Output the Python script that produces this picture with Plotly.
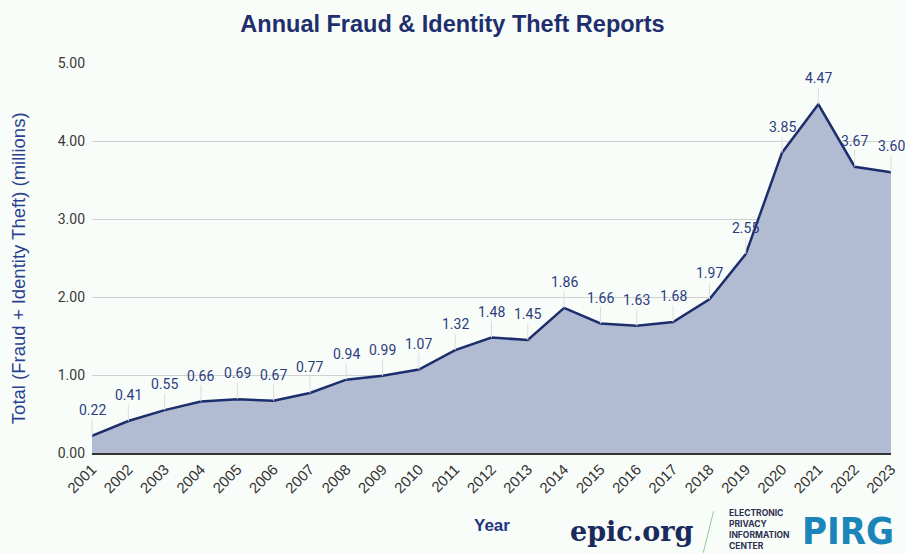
import plotly.graph_objects as go

years = list(range(2001, 2024))
totals = [0.22, 0.41, 0.55, 0.66, 0.69, 0.67, 0.77, 0.94, 0.99, 1.07, 1.32, 1.48,
          1.45, 1.86, 1.66, 1.63, 1.68, 1.97, 2.55, 3.85, 4.47, 3.67, 3.60]
y_ticks = [0, 1, 2, 3, 4, 5]
y_tick_labels = ["0.00", "1.00", "2.00", "3.00", "4.00", "5.00"]

NAVY = "#1d2e6c"
LABEL = "#2c3c80"
BG = "#f9fdf9"

fig = go.Figure()
fig.add_trace(go.Scatter(
    x=years, y=totals, mode="lines", fill="tozeroy",
    line=dict(color=NAVY, width=2.5), fillcolor="#b1bbd2",
    hoverinfo="x+y", showlegend=False,
))

annotations = []
for x, v in zip(years, totals):
    annotations.append(dict(
        x=x, y=v, xref="x", yref="y", text=f"{v:.2f}",
        showarrow=True, arrowhead=0, arrowwidth=1, arrowcolor="#dcdcdc",
        ax=0, ay=-26, standoff=0,
        font=dict(family="Roboto", size=14, color=LABEL),
        bgcolor="rgba(0,0,0,0)",
    ))

annotations += [
    dict(text="Total (Fraud + Identity Theft) (millions)", xref="paper", yref="paper",
         x=-0.0926, y=0.474, textangle=-90, xanchor="center", yanchor="middle", showarrow=False,
         font=dict(family="Liberation Sans", size=18.5, color="#2a3f8f")),
    dict(text="<b>Year</b>", xref="paper", yref="paper", x=0.5, y=-0.185,
         xanchor="center", yanchor="middle", showarrow=False,
         font=dict(family="Liberation Sans", size=17, color="#1f3480")),
    dict(text="<b>epic.org</b>", xref="paper", yref="paper", x=0.675, y=-0.2,
         xanchor="center", yanchor="middle", showarrow=False,
         font=dict(family="DejaVu Serif", size=27, color="#1b2a5c")),
    dict(text="<b>ELECTRONIC<br>PRIVACY<br>INFORMATION<br>CENTER</b>", xref="paper", yref="paper",
         x=0.795, y=-0.197, xanchor="left", yanchor="middle", align="left", showarrow=False,
         font=dict(family="Inter", size=8.5, color="#2b3050")),
    dict(text="<b>PIRG</b>", xref="paper", yref="paper", x=1.006, y=-0.2,
         xanchor="right", yanchor="middle", showarrow=False,
         font=dict(family="DejaVu Sans Condensed, Liberation Sans", size=38, color="#1b85b9")),
]

fig.update_layout(
    width=905, height=554,
    paper_bgcolor=BG, plot_bgcolor=BG,
    margin=dict(l=92, r=14, t=63, b=101, autoexpand=False),
    title=dict(text="<b>Annual Fraud &amp; Identity Theft Reports</b>", x=0.5, xanchor="center",
               y=0.957, yanchor="middle",
               font=dict(family="Liberation Sans", size=23.5, color="#1f2f6e")),
    annotations=annotations,
    shapes=[dict(type="line", xref="paper", yref="paper", x0=0.778, x1=0.765, y0=-0.149, y1=-0.256,
                 line=dict(color="#9cc79c", width=1))],
    xaxis=dict(
        range=[2001, 2023], tickmode="array", tickvals=years, ticktext=[str(y) for y in years],
        tickangle=-45, showgrid=False, zeroline=False, showline=True, linecolor="#333333", linewidth=1.5,
        tickfont=dict(family="Liberation Sans", size=15, color="#333333"), ticks="", fixedrange=True,
        automargin=False,
    ),
    yaxis=dict(
        range=[0, 5], tickmode="array", tickvals=y_ticks, ticktext=y_tick_labels,
        showgrid=True, gridcolor="#d0d0d0", gridwidth=1, zeroline=False,
        tickfont=dict(family="Roboto", size=14, color="#383838"),
        ticks="", ticklabelstandoff=6, fixedrange=True, automargin=False,
    ),
)

fig.write_html("out.html", config={"displayModeBar": False},
               post_script="document.body.style.margin='0';")
